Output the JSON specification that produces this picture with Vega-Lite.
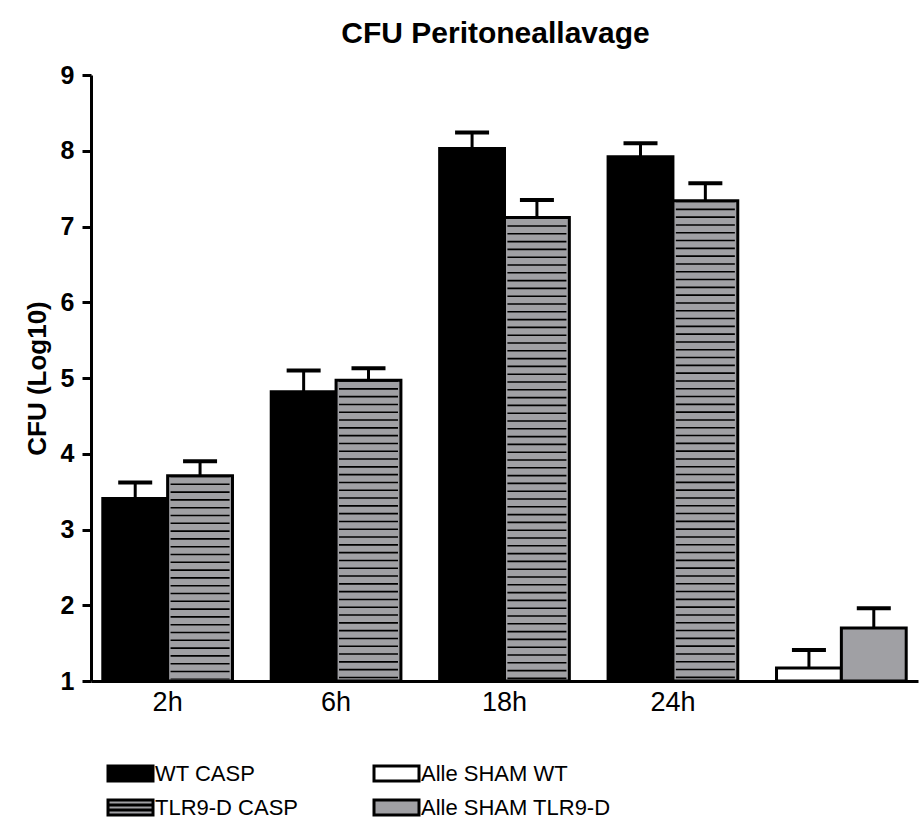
{
  "$schema": "https://vega.github.io/schema/vega-lite/v6.json",
  "autosize": {"type": "none"},
  "padding": {"left": 91, "top": 75, "right": 1, "bottom": 138},
  "width": 827,
  "height": 606,
  "background": "white",
  "config": {
    "font": "Liberation Sans",
    "view": {"stroke": null}
  },
  "title": {
    "text": "CFU Peritoneallavage",
    "font": "Liberation Sans",
    "fontSize": 30,
    "fontWeight": "bold",
    "color": "black",
    "anchor": "middle",
    "offset": 14,
    "dx": -9
  },
  "data": {
    "values": [
      {"time": "2h", "genotype": "WT", "series": "WT CASP", "value": 3.41, "upper": 3.62},
      {"time": "2h", "genotype": "TLR9-D", "series": "TLR9-D CASP", "value": 3.71, "upper": 3.90},
      {"time": "6h", "genotype": "WT", "series": "WT CASP", "value": 4.82, "upper": 5.10},
      {"time": "6h", "genotype": "TLR9-D", "series": "TLR9-D CASP", "value": 4.97, "upper": 5.13},
      {"time": "18h", "genotype": "WT", "series": "WT CASP", "value": 8.03, "upper": 8.24},
      {"time": "18h", "genotype": "TLR9-D", "series": "TLR9-D CASP", "value": 7.12, "upper": 7.35},
      {"time": "24h", "genotype": "WT", "series": "WT CASP", "value": 7.92, "upper": 8.10},
      {"time": "24h", "genotype": "TLR9-D", "series": "TLR9-D CASP", "value": 7.34, "upper": 7.57},
      {"time": "SHAM", "genotype": "WT", "series": "Alle SHAM WT", "value": 1.17, "upper": 1.41},
      {"time": "SHAM", "genotype": "TLR9-D", "series": "Alle SHAM TLR9-D", "value": 1.70, "upper": 1.96}
    ]
  },
  "encoding": {
    "x": {
      "field": "time",
      "type": "nominal",
      "sort": ["2h", "6h", "18h", "24h", "SHAM"],
      "scale": {"paddingInner": 0.23, "paddingOuter": 0.07},
      "axis": {
        "title": null,
        "labelAngle": 0,
        "labelExpr": "datum.value == 'SHAM' ? '' : datum.value",
        "labelFont": "Liberation Sans",
        "labelFontSize": 27,
        "labelColor": "black",
        "labelPadding": 8,
        "ticks": false,
        "domainColor": "black",
        "domainWidth": 3,
        "grid": false
      }
    },
    "xOffset": {
      "field": "genotype",
      "type": "nominal",
      "sort": ["WT", "TLR9-D"],
      "scale": {"paddingInner": 0, "paddingOuter": 0}
    }
  },
  "layer": [
    {
      "mark": {"type": "rule", "color": "black", "strokeWidth": 3},
      "encoding": {
        "y": {"field": "value", "type": "quantitative"},
        "y2": {"field": "upper"}
      }
    },
    {
      "mark": {"type": "tick", "color": "black", "size": 34, "thickness": 4, "orient": "horizontal", "opacity": 1},
      "encoding": {
        "y": {"field": "upper", "type": "quantitative"}
      }
    },
    {
      "mark": {"type": "bar", "stroke": "black", "strokeWidth": 3, "strokeJoin": "miter"},
      "encoding": {
        "y": {
          "field": "value",
          "type": "quantitative",
          "scale": {"domain": [1, 9], "nice": false, "zero": false},
          "axis": {
            "title": "CFU (Log10)",
            "titleFont": "Liberation Sans",
            "titleFontSize": 26,
            "titleFontWeight": "bold",
            "titleColor": "black",
            "titlePadding": 10,
            "values": [1, 2, 3, 4, 5, 6, 7, 8, 9],
            "format": "d",
            "labelFont": "Liberation Sans",
            "labelFontSize": 25,
            "labelFontWeight": "bold",
            "labelColor": "black",
            "labelPadding": 8,
            "tickSize": 9,
            "tickWidth": 3,
            "tickColor": "black",
            "domainColor": "black",
            "domainWidth": 3,
            "grid": false
          }
        },
        "y2": {"datum": 1},
        "fill": {
          "field": "series",
          "type": "nominal",
          "scale": {
            "domain": ["WT CASP", "Alle SHAM WT", "TLR9-D CASP", "Alle SHAM TLR9-D"],
            "range": ["#000000", "#ffffff", "#a0a0a4", "#a0a0a4"]
          },
          "legend": {
            "title": null,
            "orient": "none",
            "legendX": 23,
            "legendY": 682,
            "direction": "horizontal",
            "columns": 2,
            "columnPadding": 69,
            "rowPadding": 4,
            "labelFont": "Liberation Sans",
            "labelFontSize": 22,
            "labelColor": "black",
            "labelOffset": 8,
            "labelLimit": 400,
            "symbolSize": 900,
            "symbolStrokeColor": "black",
            "symbolStrokeWidth": 3,
            "symbolOpacity": 1,
            "encode": {
              "symbols": {
                "update": {
                  "stroke": {"value": "black"},
                  "strokeWidth": {"value": 3},
                  "opacity": {"value": 1},
                  "strokeOpacity": {"value": 1},
                  "fillOpacity": {"value": 1}
                }
              }
            }
          }
        }
      }
    },
    {
      "transform": [{"filter": "datum.series == 'TLR9-D CASP'"}],
      "mark": {"type": "rule", "color": "black", "strokeWidth": 59, "strokeDash": [1.6, 6.2], "strokeCap": "butt"},
      "encoding": {
        "y": {"field": "value", "type": "quantitative"},
        "y2": {"datum": 1.02}
      }
    },
    {
      "mark": {"type": "point", "filled": true, "opacity": 0},
      "encoding": {
        "y": {"field": "value", "type": "quantitative"},
        "fill": {"field": "series", "type": "nominal"},
        "shape": {
          "field": "series",
          "type": "nominal",
          "scale": {
            "domain": ["WT CASP", "Alle SHAM WT", "TLR9-D CASP", "Alle SHAM TLR9-D"],
            "range": [
              "M-1.5,-0.5H1.5V0.5H-1.5Z",
              "M-1.5,-0.5H1.5V0.5H-1.5Z",
              "M-1.5,-0.5H1.5V0.5H-1.5Z M-1.5,-0.17H1.5 M-1.5,0.17H1.5",
              "M-1.5,-0.5H1.5V0.5H-1.5Z"
            ]
          },
          "legend": {
            "title": null,
            "orient": "none",
            "legendX": 23,
            "legendY": 682,
            "direction": "horizontal",
            "columns": 2,
            "columnPadding": 69,
            "rowPadding": 4,
            "labelFont": "Liberation Sans",
            "labelFontSize": 22,
            "labelColor": "black",
            "labelOffset": 8,
            "labelLimit": 400,
            "symbolSize": 900,
            "symbolStrokeColor": "black",
            "symbolStrokeWidth": 3,
            "symbolOpacity": 1,
            "encode": {
              "symbols": {
                "update": {
                  "stroke": {"value": "black"},
                  "strokeWidth": {"value": 3},
                  "opacity": {"value": 1},
                  "strokeOpacity": {"value": 1},
                  "fillOpacity": {"value": 1}
                }
              }
            }
          }
        }
      }
    }
  ]
}
